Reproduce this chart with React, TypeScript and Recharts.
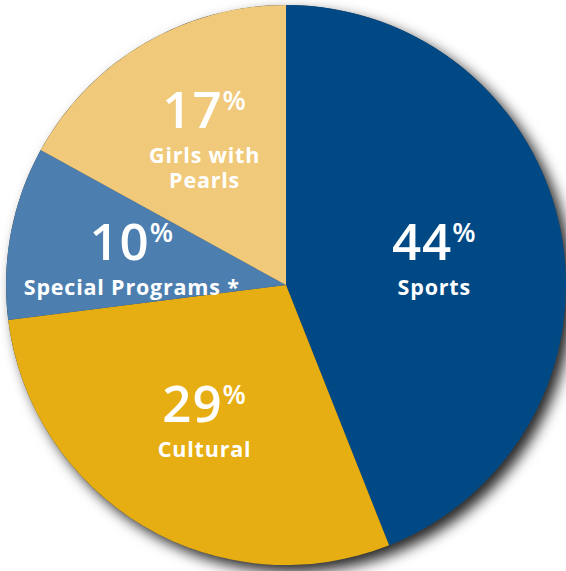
import React from 'react';
import { PieChart, Pie, Cell } from 'recharts';

const categories = ['Sports', 'Cultural', 'Special Programs *', 'Girls with Pearls'];
const values = [44, 29, 10, 17];
const labelLines = [['Sports'], ['Cultural'], ['Special Programs *'], ['Girls with', 'Pearls']];
const colors = ['#004985', '#E6AE12', '#4C7FB0', '#F0C97A'];

const data = categories.map((name, i) => ({ name, value: values[i] }));
const shadowData = [{ name: 'all', value: 1 }];

const W = 566;
const H = 571;
const CX = 286;
const CY = 285;
const R = 280;
const RADIAN = Math.PI / 180;
const FONT = '"Open Sans", "Noto Sans", sans-serif';

const renderLabel = (props: any) => {
  const { cx, cy, midAngle, outerRadius, index } = props;
  const r = outerRadius * 0.55;
  const x = cx + r * Math.cos(-midAngle * RADIAN) - 3;
  const y = cy + r * Math.sin(-midAngle * RADIAN);
  const lines = labelLines[index];
  const pctBase = y + 4 - (lines.length - 1) * 28;
  return (
    <g key={`lbl-${index}`}>
      <text x={x} y={pctBase} textAnchor="middle" fill="#fff" fontFamily={FONT} fontWeight={600} fontSize={51} letterSpacing={1}>
        {values[index]}
        <tspan fontSize={27} dy={-18}>%</tspan>
      </text>
      <text x={x} y={pctBase + 35} textAnchor="middle" fill="#fff" fontFamily={FONT} fontWeight={700} fontSize={21.5} letterSpacing={0.8}>
        {lines.map((ln, j) => (
          <tspan key={j} x={x} dy={j === 0 ? 0 : 25}>
            {ln}
          </tspan>
        ))}
      </text>
    </g>
  );
};

export default function App() {
  return (
    <div style={{ position: 'absolute', left: 0, top: 0, width: W, height: H, background: '#fff', overflow: 'hidden' }}>
      <div style={{ position: 'absolute', left: 0, top: 0, filter: 'drop-shadow(7px 7px 7px rgba(0,0,0,0.85))' }}>
        <PieChart width={W} height={H} margin={{ top: 0, right: 0, bottom: 0, left: 0 }}>
          <Pie data={shadowData} dataKey="value" cx={CX} cy={CY} outerRadius={R} startAngle={90} endAngle={-270} stroke="none" fill="#444" isAnimationActive={false} />
        </PieChart>
      </div>
      <div style={{ position: 'absolute', left: 0, top: 0 }}>
        <PieChart width={W} height={H} margin={{ top: 0, right: 0, bottom: 0, left: 0 }}>
          <Pie
            data={data}
            dataKey="value"
            nameKey="name"
            cx={CX}
            cy={CY}
            outerRadius={R}
            startAngle={90}
            endAngle={-270}
            stroke="none"
            label={renderLabel}
            labelLine={false}
            isAnimationActive={false}
          >
            {data.map((d, i) => (
              <Cell key={d.name} fill={colors[i]} />
            ))}
          </Pie>
        </PieChart>
      </div>
    </div>
  );
}
